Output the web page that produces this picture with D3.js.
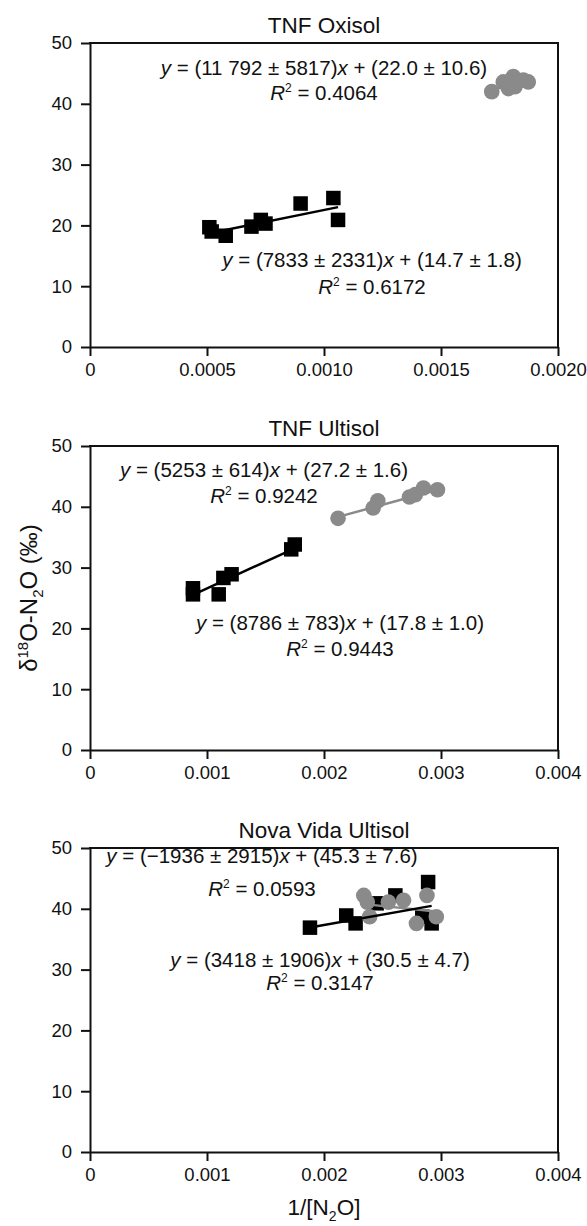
<!DOCTYPE html>
<html><head><meta charset="utf-8">
<script src="https://cdn.jsdelivr.net/npm/d3@7/dist/d3.min.js"></script>
<style>
body{margin:0;background:#fff;}
text{font-family:"Liberation Sans",Arial,Helvetica,sans-serif;fill:#111;}
</style></head>
<body><svg id="c" width="587" height="1226"></svg>
<script>
// ---- data ----
const panelTitles = ["TNF Oxisol", "TNF Ultisol", "Nova Vida Ultisol"];
const xMax = [0.002, 0.004, 0.004];
const xTicks1 = [0, 0.0005, 0.0010, 0.0015, 0.0020];
const xTickLabels1 = ["0", "0.0005", "0.0010", "0.0015", "0.0020"];
const xTicks23 = [0, 0.001, 0.002, 0.003, 0.004];
const xTickLabels23 = ["0", "0.001", "0.002", "0.003", "0.004"];
const yTicks = [0, 10, 20, 30, 40, 50];

// panel 1 (TNF Oxisol)
const oxSquaresX = [0.00051, 0.00052, 0.00058, 0.00069, 0.00073, 0.00075, 0.00090, 0.00104, 0.00106];
const oxSquaresY = [19.7, 19.0, 18.3, 19.8, 20.9, 20.3, 23.6, 24.5, 20.9];
const oxCirclesX = [0.001717, 0.001766, 0.001788, 0.001809, 0.001816, 0.001852, 0.001873];
const oxCirclesY = [42.0, 43.6, 42.5, 44.5, 42.8, 43.9, 43.6];
// panel 2 (TNF Ultisol)
const ulSquaresX = [0.00088, 0.00088, 0.00110, 0.00114, 0.00121, 0.00172, 0.00175];
const ulSquaresY = [26.6, 25.6, 25.6, 28.3, 28.9, 33.0, 33.8];
const ulCirclesX = [0.00212, 0.00242, 0.00246, 0.00273, 0.00278, 0.00285, 0.00297];
const ulCirclesY = [38.1, 39.8, 41.0, 41.6, 42.0, 43.1, 42.8];
// panel 3 (Nova Vida Ultisol)
const nvSquaresX = [0.00188, 0.00219, 0.00227, 0.00245, 0.00261, 0.00289, 0.00284, 0.00292];
const nvSquaresY = [36.9, 38.9, 37.6, 40.9, 42.2, 44.4, 38.7, 37.6];
const nvCirclesX = [0.00234, 0.00237, 0.00239, 0.00255, 0.00268, 0.00288, 0.00279, 0.00296];
const nvCirclesY = [42.2, 41.1, 38.7, 41.1, 41.4, 42.2, 37.6, 38.7];

// regression coefficients [slope, intercept]
const fitSquares = [[7833, 14.7], [8786, 17.8], [3418, 30.5]];
const fitCircles = [[11792, 22.0], [5253, 27.2], [-1936, 45.3]];
const eqSquares = [["(7833 \u00b1 2331)", "(14.7 \u00b1 1.8)", "0.6172"],
                   ["(8786 \u00b1 783)", "(17.8 \u00b1 1.0)", "0.9443"],
                   ["(3418 \u00b1 1906)", "(30.5 \u00b1 4.7)", "0.3147"]];
const eqCircles = [["(11 792 \u00b1 5817)", "(22.0 \u00b1 10.6)", "0.4064"],
                   ["(5253 \u00b1 614)", "(27.2 \u00b1 1.6)", "0.9242"],
                   ["(\u22121936 \u00b1 2915)", "(45.3 \u00b1 7.6)", "0.0593"]];

// ---- layout ----
const L = 90, R = 558, H = 304;
const tops = [43, 446, 848];
// equation placement: [centerX, baselineOffsetFromTop, gapToR2Line]
const eqPosSquares = [[372, 224, 27], [340, 184, 26], [320, 119, 23]];
const eqPosCircles = [[324, 32, 25], [264, 31, 26], [262, 15, 33]];
const grey = "#8a8a8a";
const EQF = 20.5;

const svg = d3.select("#c");
const panels = [
  {sx: oxSquaresX, sy: oxSquaresY, cx: oxCirclesX, cy: oxCirclesY},
  {sx: ulSquaresX, sy: ulSquaresY, cx: ulCirclesX, cy: ulCirclesY},
  {sx: nvSquaresX, sy: nvSquaresY, cx: nvCirclesX, cy: nvCirclesY}
];

panels.forEach((p, i) => {
  const top = tops[i];
  const x = d3.scaleLinear().domain([0, xMax[i]]).range([L, R]);
  const y = d3.scaleLinear().domain([0, 50]).range([top + H, top]);
  const g = svg.append("g");

  // title
  g.append("text").attr("x", (L + R) / 2).attr("y", top - 10)
    .attr("text-anchor", "middle").attr("font-size", 22.5).text(panelTitles[i]);

  // axes
  const xt = i === 0 ? xTicks1 : xTicks23;
  const xl = i === 0 ? xTickLabels1 : xTickLabels23;
  const xAxis = d3.axisBottom(x).tickValues(xt).tickFormat((d, k) => xl[k]).tickSize(9).tickSizeOuter(0).tickPadding(7);
  const yAxis = d3.axisLeft(y).tickValues(yTicks).tickFormat(d3.format("d")).tickSize(9).tickSizeOuter(0).tickPadding(9);
  const gx = g.append("g").attr("transform", `translate(0,${top + H})`).call(xAxis);
  const gy = g.append("g").attr("transform", `translate(${L},0)`).call(yAxis);
  [gx, gy].forEach(a => {
    a.selectAll("path,line").attr("stroke", "#111").attr("stroke-width", 2);
    a.selectAll("text").attr("font-size", 18.5).attr("fill", "#111")
      .style("font-family", '"Liberation Sans",Arial,Helvetica,sans-serif');
  });
  // box: top and right
  g.append("line").attr("x1", L - 1).attr("x2", R + 1).attr("y1", top).attr("y2", top).attr("stroke", "#111").attr("stroke-width", 2);
  g.append("line").attr("x1", R).attr("x2", R).attr("y1", top).attr("y2", top + H).attr("stroke", "#111").attr("stroke-width", 2);

  const sq = p.sx.map((v, k) => [v, p.sy[k]]);
  const ci = p.cx.map((v, k) => [v, p.cy[k]]);
  const sqExt = d3.extent(p.sx), ciExt = d3.extent(p.cx);
  const line = d3.line().x(d => x(d[0])).y(d => y(d[1]));
  const fs = fitSquares[i], fc = fitCircles[i];

  // squares
  const s = 14.5;
  g.selectAll(".sq").data(sq).enter().append("rect")
    .attr("x", d => x(d[0]) - s / 2).attr("y", d => y(d[1]) - s / 2)
    .attr("width", s).attr("height", s).attr("fill", "#000");
  // grey fit line
  g.append("path").datum(ciExt.map(v => [v, fc[0] * v + fc[1]]))
    .attr("d", line).attr("stroke", grey).attr("stroke-width", 2.5).attr("fill", "none");
  // circles
  g.selectAll(".ci").data(ci).enter().append("circle")
    .attr("cx", d => x(d[0])).attr("cy", d => y(d[1])).attr("r", 7.8).attr("fill", grey);
  // black fit line
  g.append("path").datum(sqExt.map(v => [v, fs[0] * v + fs[1]]))
    .attr("d", line).attr("stroke", "#000").attr("stroke-width", 2.5).attr("fill", "none");

  // equations
  function eq(pos, e) {
    const t = g.append("text").attr("x", pos[0]).attr("y", top + pos[1])
      .attr("text-anchor", "middle").attr("font-size", EQF);
    t.append("tspan").attr("font-style", "italic").text("y");
    t.append("tspan").text(" = " + e[0]);
    t.append("tspan").attr("font-style", "italic").text("x");
    t.append("tspan").text(" + " + e[1]);
    const r = g.append("text").attr("x", pos[0]).attr("y", top + pos[1] + pos[2])
      .attr("text-anchor", "middle").attr("font-size", EQF);
    r.append("tspan").attr("font-style", "italic").text("R");
    r.append("tspan").attr("font-size", 12).attr("dy", -8).text("2");
    r.append("tspan").attr("dy", 8).text(" = " + e[2]);
  }
  eq(eqPosCircles[i], eqCircles[i]);
  eq(eqPosSquares[i], eqSquares[i]);
});

// axis titles
const yl = svg.append("text").attr("transform", `translate(37,${tops[1] + H / 2}) rotate(-90)`)
  .attr("text-anchor", "middle").attr("font-size", 24);
yl.append("tspan").text("\u03b4");
yl.append("tspan").attr("font-size", 15).attr("dy", -9).text("18");
yl.append("tspan").attr("dy", 9).text("O-N");
yl.append("tspan").attr("font-size", 15).attr("dy", 6).text("2");
yl.append("tspan").attr("dy", -6).text("O (\u2030)");

const xlab = svg.append("text").attr("x", (L + R) / 2).attr("y", 1215)
  .attr("text-anchor", "middle").attr("font-size", 22.5);
xlab.append("tspan").text("1/[N");
xlab.append("tspan").attr("font-size", 14).attr("dy", 6).text("2");
xlab.append("tspan").attr("dy", -6).text("O]");
</script></body></html>
